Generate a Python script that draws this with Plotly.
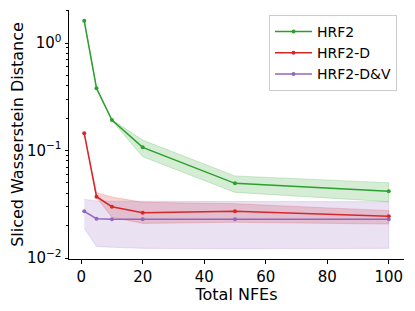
import plotly.graph_objects as go

nfes = [1, 5, 10, 20, 50, 100]

hrf2 = [1.61, 0.379, 0.192, 0.107, 0.0495, 0.0417]
hrf2_lo = [1.60, 0.375, 0.190, 0.0875, 0.0408, 0.0334]
hrf2_hi = [1.62, 0.383, 0.194, 0.125, 0.058, 0.0502]

hrf2d = [0.1445, 0.0372, 0.0300, 0.0264, 0.0272, 0.0245]
hrf2d_lo = [0.1440, 0.0365, 0.0240, 0.0210, 0.0215, 0.0207]
hrf2d_hi = [0.1450, 0.0405, 0.0370, 0.0330, 0.0320, 0.0276]

hrf2dv = [0.0272, 0.0232, 0.0230, 0.0230, 0.0230, 0.0230]
hrf2dv_lo = [0.0189, 0.0128, 0.0126, 0.0123, 0.0122, 0.0123]
hrf2dv_hi = [0.0351, 0.0340, 0.0338, 0.0336, 0.0335, 0.0334]

series = [
    ("HRF2", hrf2, hrf2_lo, hrf2_hi, (44, 160, 44)),
    ("HRF2-D", hrf2d, hrf2d_lo, hrf2d_hi, (214, 39, 40)),
    ("HRF2-D&V", hrf2dv, hrf2dv_lo, hrf2dv_hi, (148, 103, 189)),
]

fig = go.Figure()
for name, y, lo, hi, c in series:
    fig.add_trace(go.Scatter(
        x=nfes + nfes[::-1], y=hi + lo[::-1], fill="toself",
        fillcolor="rgba(%d,%d,%d,0.2)" % c,
        line=dict(color="rgba(%d,%d,%d,0.2)" % c, width=1),
        mode="lines", showlegend=False, hoverinfo="skip"))
for name, y, lo, hi, c in series:
    rgb = "rgb(%d,%d,%d)" % c
    fig.add_trace(go.Scatter(
        x=nfes, y=y, name=name, mode="lines+markers",
        line=dict(color=rgb, width=1.5),
        marker=dict(color=rgb, size=4)))

minor_vals = []
for d in [0.01, 0.1, 1]:
    for k in range(2, 10):
        minor_vals.append(d * k)

# page body has an 8px margin, so the figure is sized/offset to compensate
fig.update_layout(
    width=407, height=303,
    margin=dict(l=61, r=11, t=2, b=52),
    paper_bgcolor="white", plot_bgcolor="white",
    font=dict(family="DejaVu Sans", size=15, color="black"),
    legend=dict(x=0.597, y=0.98, xanchor="left", yanchor="top",
                bgcolor="rgba(255,255,255,0.8)", bordercolor="#cccccc",
                borderwidth=1, font=dict(size=14), itemwidth=37,
                tracegroupgap=0),
)
fig.update_xaxes(
    range=[-3.95, 104.95], tickvals=[0, 20, 40, 60, 80, 100],
    showgrid=False, zeroline=False, showline=True, linecolor="black",
    linewidth=1, ticks="outside", ticklen=3.5, tickcolor="black",
    automargin=False,
    title=dict(text="Total NFEs", font=dict(size=16), standoff=0),
    tickfont=dict(size=15))
fig.update_yaxes(
    type="log", range=[-2.009, 0.307],
    tickvals=[0.01, 0.1, 1],
    ticktext=["10<sup>\u22122</sup>", "10<sup>\u22121</sup>", "10<sup>0</sup>"],
    showgrid=False, zeroline=False, showline=True, linecolor="black",
    linewidth=1, ticks="outside", ticklen=3.5, tickcolor="black",
    automargin=False,
    minor=dict(tickvals=minor_vals, ticks="outside", ticklen=2,
               tickcolor="black", showgrid=False),
    title=dict(text="Sliced Wasserstein Distance", font=dict(size=16), standoff=4),
    tickfont=dict(size=15))

fig.write_html("out.html")
